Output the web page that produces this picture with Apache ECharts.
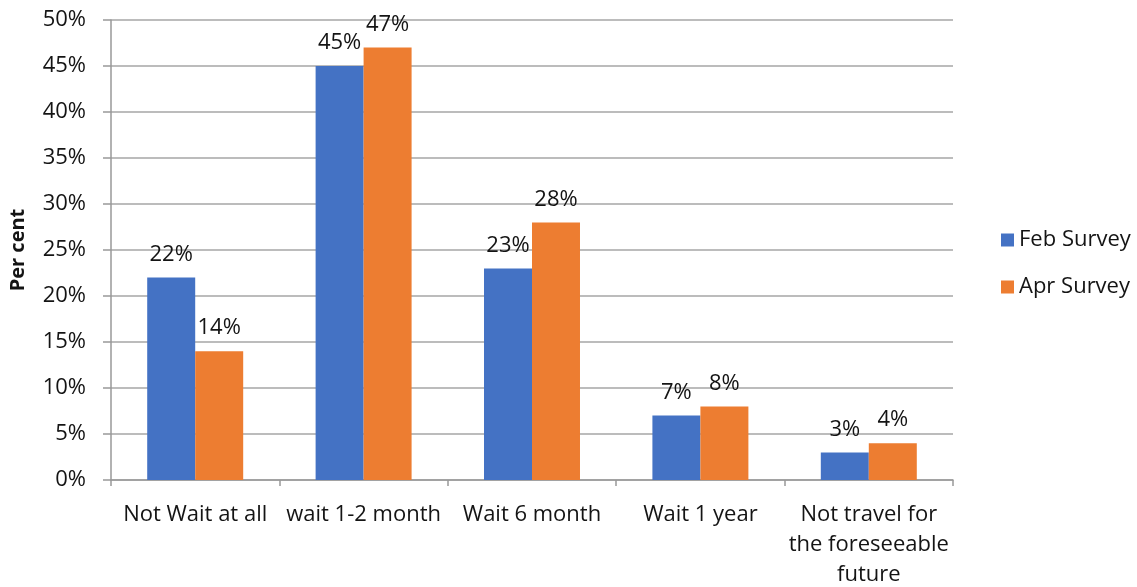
<!DOCTYPE html>
<html>
<head>
<meta charset="utf-8">
<script src="https://cdn.jsdelivr.net/npm/echarts@6/dist/echarts.min.js"></script>
<style>
  html, body { margin: 0; padding: 0; background: #fff; }
  #chart { width: 1137px; height: 587px; }
</style>
</head>
<body>
<div id="chart"></div>
<script>
// Survey answers: how long respondents would wait before travelling again
const categories = [
  'Not Wait at all',
  'wait 1-2 month',
  'Wait 6 month',
  'Wait 1 year',
  'Not travel for\nthe foreseeable\nfuture'
];
const febSurvey = [22, 45, 23, 7, 3];
const aprSurvey = [14, 47, 28, 8, 4];
const seriesNames = ['Feb Survey', 'Apr Survey'];

const FONT = '"Open Sans", "Noto Sans", sans-serif';
const TEXT = '#141414';
const chart = echarts.init(document.getElementById('chart'));

const labelStyle = {
  show: true,
  position: 'top',
  distance: 12,
  formatter: p => p.value + '%',
  fontFamily: FONT,
  fontSize: 22,
  color: TEXT
};

chart.setOption({
  animation: false,
  textStyle: { fontFamily: FONT },
  grid: {
    left: 111, right: 184, top: 20, bottom: 107,
    containLabel: false,
    outerBoundsMode: 'none'
  },
  legend: {
    orient: 'vertical',
    left: 996,
    top: 224,
    itemWidth: 13,
    itemHeight: 13,
    itemGap: 25,
    icon: 'rect',
    textStyle: { fontFamily: FONT, fontSize: 22, color: TEXT },
    data: seriesNames
  },
  xAxis: {
    type: 'category',
    data: categories,
    axisLine: { lineStyle: { color: '#999', width: 1.5 } },
    axisTick: { show: true, length: 6, lineStyle: { color: '#999', width: 1.5 } },
    axisLabel: {
      fontFamily: FONT,
      fontSize: 22,
      color: TEXT,
      margin: 20,
      lineHeight: 30,
      interval: 0
    }
  },
  yAxis: {
    type: 'value',
    min: 0,
    max: 50,
    interval: 5,
    name: 'Per cent',
    nameLocation: 'middle',
    nameGap: 83,
    nameTextStyle: { fontFamily: FONT, fontSize: 20, fontWeight: 'bold', color: TEXT },
    axisLine: { show: true, lineStyle: { color: '#999', width: 1.5 } },
    axisTick: { show: true, length: 8, lineStyle: { color: '#999', width: 1.5 } },
    axisLabel: {
      fontFamily: FONT,
      fontSize: 22,
      color: TEXT,
      margin: 25,
      formatter: v => v + '%'
    },
    splitLine: { lineStyle: { color: '#a6a6a6', width: 1.5 } }
  },
  series: [
    {
      name: seriesNames[0],
      type: 'bar',
      data: febSurvey,
      barGap: '0%',
      barCategoryGap: '43%',
      itemStyle: { color: '#4472C4' },
      label: labelStyle
    },
    {
      name: seriesNames[1],
      type: 'bar',
      data: aprSurvey,
      barGap: '0%',
      barCategoryGap: '43%',
      itemStyle: { color: '#ED7D31' },
      label: labelStyle
    }
  ]
});
</script>
</body>
</html>
